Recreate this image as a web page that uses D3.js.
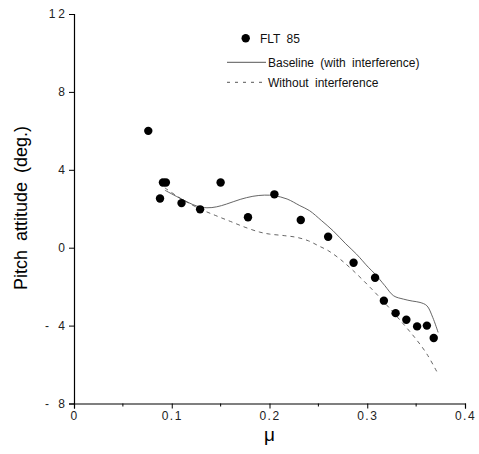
<!DOCTYPE html>
<html>
<head>
<meta charset="utf-8">
<script src="https://cdn.jsdelivr.net/npm/d3@7"></script>
<style>
  body { margin: 0; background: #fff; }
  svg { display: block; font-family: "Liberation Sans", Arial, sans-serif; }
  .ytick text { letter-spacing: 3px; }
  .xtick text { letter-spacing: 1.5px; }
</style>
</head>
<body>
<svg id="chart" width="479" height="454"></svg>
<script>
// flight test points (mu, pitch deg)
const fltMu = [0.076, 0.088, 0.091, 0.094, 0.110, 0.129, 0.150, 0.178, 0.205, 0.232, 0.260, 0.286, 0.308, 0.317, 0.329, 0.340, 0.351, 0.361, 0.368];
const fltPitch = [6.0, 2.53, 3.35, 3.35, 2.29, 1.97, 3.35, 1.56, 2.74, 1.42, 0.56, -0.77, -1.54, -2.72, -3.36, -3.70, -4.04, -4.0, -4.64];

// baseline (with interference)
const baseMu = [0.093, 0.110, 0.125, 0.136, 0.146, 0.156, 0.170, 0.183, 0.195, 0.205, 0.218, 0.231, 0.241, 0.253, 0.265, 0.278, 0.289, 0.301, 0.308, 0.318, 0.327, 0.337, 0.346, 0.354, 0.361, 0.367, 0.3725];
const basePitch = [2.95, 2.5, 2.15, 2.05, 2.1, 2.24, 2.48, 2.64, 2.70, 2.67, 2.50, 2.16, 1.9, 1.4, 0.87, 0.2, -0.33, -1.0, -1.35, -1.95, -2.47, -2.64, -2.74, -2.81, -2.98, -3.58, -4.35];

// without interference
const noIntMu = [0.093, 0.110, 0.129, 0.145, 0.160, 0.175, 0.190, 0.200, 0.215, 0.228, 0.240, 0.250, 0.260, 0.272, 0.285, 0.303, 0.320, 0.337, 0.350, 0.361, 0.3725];
const noIntPitch = [3.07, 2.5, 1.99, 1.65, 1.35, 1.05, 0.8, 0.7, 0.62, 0.53, 0.35, 0.1, -0.15, -0.58, -1.15, -2.04, -2.95, -3.92, -4.7, -5.46, -6.49];

const xTicks = [0, 0.1, 0.2, 0.3, 0.4];
const xMinor = [0.05, 0.15, 0.25, 0.35];
const yTicks = [-8, -4, 0, 4, 8, 12];

const svg = d3.select('#chart');
const x = d3.scaleLinear().domain([0, 0.4]).range([74, 465]);
const y = d3.scaleLinear().domain([-8, 12]).range([403.5, 14]);

// x axis
const gx = svg.append('g').attr('class', 'xtick').attr('transform', `translate(0,${y(-8)})`);
gx.call(d3.axisBottom(x).tickValues(xTicks).tickSize(5).tickPadding(3)
  .tickFormat((d) => (d === 0 ? '0' : d3.format('.1f')(d))));
gx.append('g').selectAll('line')
  .data(xMinor)
  .join('line')
  .attr('x1', (d) => x(d)).attr('x2', (d) => x(d))
  .attr('y1', 0).attr('y2', 3)
  .attr('stroke', '#000');

// y axis
const gy = svg.append('g').attr('class', 'ytick').attr('transform', `translate(${x(0)},0)`);
gy.call(d3.axisLeft(y).tickValues(yTicks).tickSize(5).tickPadding(1)
  .tickFormat((d) => (d < 0 ? '- ' + Math.abs(d) : String(d))));

svg.selectAll('.domain').attr('stroke', '#000').attr('stroke-width', 1.2);
svg.selectAll('.tick line').attr('stroke', '#000');
svg.selectAll('.tick text')
  .attr('font-size', 12)
  .attr('fill', '#222')
  .attr('font-family', '"Liberation Sans", Arial, sans-serif');

// axis titles
svg.append('text')
  .attr('x', x(0.2)).attr('y', 441)
  .attr('text-anchor', 'middle')
  .attr('font-size', 19)
  .text('μ');

svg.append('text')
  .attr('transform', `translate(27,${208}) rotate(-90)`)
  .attr('text-anchor', 'middle')
  .attr('font-size', 18)
  .style('word-spacing', '4px')
  .text('Pitch attitude (deg.)');

// curves
const line = d3.line()
  .x((d) => x(d[0]))
  .y((d) => y(d[1]))
  .curve(d3.curveCatmullRom);

svg.append('path')
  .datum(d3.zip(baseMu, basePitch))
  .attr('d', line)
  .attr('fill', 'none')
  .attr('stroke', '#555')
  .attr('stroke-width', 0.9);

svg.append('path')
  .datum(d3.zip(noIntMu, noIntPitch))
  .attr('d', line)
  .attr('fill', 'none')
  .attr('stroke', '#555')
  .attr('stroke-width', 0.9)
  .attr('stroke-dasharray', '4,4');

// flight points
svg.append('g').selectAll('circle')
  .data(d3.zip(fltMu, fltPitch))
  .join('circle')
  .attr('cx', (d) => x(d[0]))
  .attr('cy', (d) => y(d[1]))
  .attr('r', 4.2)
  .attr('fill', '#000');

// legend
const legend = svg.append('g').attr('font-size', 12).attr('fill', '#111');
legend.append('circle').attr('cx', 245.7).attr('cy', 38.3).attr('r', 4.2).attr('fill', '#000');
legend.append('text').attr('x', 260).attr('y', 43).style('word-spacing', '3px').text('FLT 85');
legend.append('line').attr('x1', 227).attr('x2', 266).attr('y1', 62.3).attr('y2', 62.3)
  .attr('stroke', '#444').attr('stroke-width', 0.9);
legend.append('text').attr('x', 268).attr('y', 66.5).style('word-spacing', '3px').text('Baseline (with interference)');
legend.append('line').attr('x1', 227).attr('x2', 266).attr('y1', 82.3).attr('y2', 82.3)
  .attr('stroke', '#444').attr('stroke-width', 0.9).attr('stroke-dasharray', '3,5');
legend.append('text').attr('x', 268).attr('y', 86.5).style('word-spacing', '3px').text('Without interference');
</script>
</body>
</html>
